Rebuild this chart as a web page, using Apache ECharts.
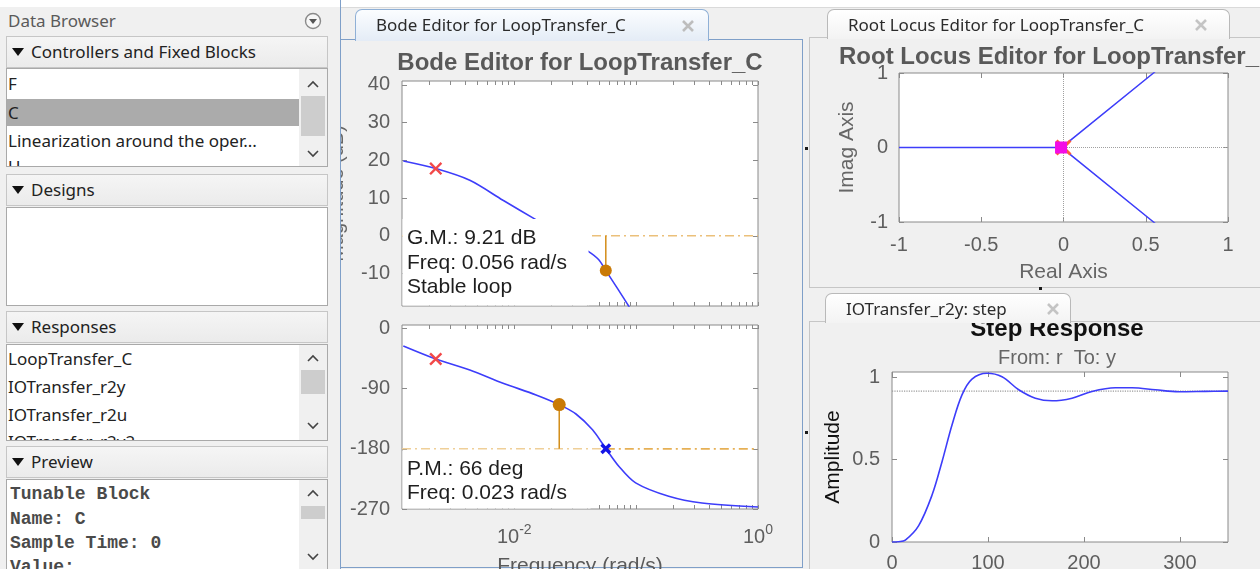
<!DOCTYPE html>
<html>
<head>
<meta charset="utf-8">
<script src="https://cdn.jsdelivr.net/npm/echarts@6/dist/echarts.min.js"></script>
<style>
html,body{margin:0;padding:0;width:1260px;height:569px;overflow:hidden;background:#f0f0f0;font-family:"Noto Sans","Open Sans",sans-serif;}
.abs{position:absolute;}
#chart{position:absolute;left:0;top:0;width:1260px;height:569px;z-index:1;}
#left{position:absolute;left:0;top:0;width:340px;height:569px;background:#f0f0f0;border-right:1px solid #7f9fc8;z-index:2;overflow:hidden;}
.hdr{position:absolute;left:6px;width:320px;height:30px;border:1px solid #c6c6c6;background:linear-gradient(#f5f5f5,#ebebeb);font-size:17px;line-height:30px;color:#222;}
.hdr .tri{position:absolute;left:5px;top:11px;width:0;height:0;border-left:6px solid transparent;border-right:6px solid transparent;border-top:8px solid #111;}
.hdr .lab{position:absolute;left:24px;top:0;}
.box{position:absolute;left:6px;width:320px;background:#fff;border:1px solid #a9a9a9;overflow:hidden;}
.it{position:absolute;left:1px;font-size:17px;line-height:24px;color:#222;white-space:nowrap;}
.mono{position:absolute;left:3px;font-family:"Liberation Mono","DejaVu Sans Mono",monospace;font-weight:bold;font-size:18px;line-height:22px;color:#4a4a4a;white-space:nowrap;}
.sb{position:absolute;left:292px;top:0;width:28px;height:100%;background:#f0f0f0;}
.thumb{position:absolute;left:2px;width:24px;background:#cdcdcd;}
.chev{position:absolute;left:8px;}
.tab{position:absolute;border:1px solid #b9b9b9;border-bottom:none;border-radius:7px 7px 0 0;background:linear-gradient(#ffffff,#f3f3f3);z-index:2;}
.tab .tt{position:absolute;left:20px;top:0;font-size:17px;line-height:30px;color:#2b2b2b;white-space:nowrap;}
.tab svg{position:absolute;}
.panel{position:absolute;border:1px solid #c6c6c6;background:#f0f0f0;z-index:0;}
.dot{position:absolute;width:3px;height:3px;background:#1a1a1a;z-index:2;}
</style>
</head>
<body>
<!-- window chrome (behind the plots) -->
<div class="abs" style="left:0;top:0;width:1260px;height:7px;background:#fff;border-bottom:1px solid #dadada;z-index:0"></div>
<div class="panel" style="left:340px;top:39px;width:461px;height:527px;border-color:#7f9fc8;"></div>
<div class="panel" style="left:809px;top:37px;width:470px;height:249px;"></div>
<div class="panel" style="left:809px;top:321px;width:470px;height:270px;"></div>

<div class="tab" style="left:355px;top:9px;width:352px;height:31px;border-color:#8fb0d6;background:linear-gradient(#fbfdff,#e4ecf6);">
  <div class="tt">Bode Editor for LoopTransfer_C</div>
  <svg style="left:325px;top:9px" width="14" height="14"><path d="M2,2L12,12M12,2L2,12" stroke="#bdbdbd" stroke-width="2.6"/></svg>
</div>
<div class="tab" style="left:827px;top:9px;width:401px;height:29px;">
  <div class="tt">Root Locus Editor for LoopTransfer_C</div>
  <svg style="left:366px;top:8px" width="14" height="14"><path d="M2,2L12,12M12,2L2,12" stroke="#c4c4c4" stroke-width="2.6"/></svg>
</div>
<div class="tab" style="left:825px;top:293px;width:244px;height:29px;">
  <div class="tt">IOTransfer_r2y: step</div>
  <svg style="left:220px;top:8px" width="14" height="14"><path d="M2,2L12,12M12,2L2,12" stroke="#c4c4c4" stroke-width="2.6"/></svg>
</div>
<div class="dot" style="left:805px;top:147px"></div>
<div class="dot" style="left:805px;top:431px"></div>
<div class="dot" style="left:1039px;top:287px"></div>

<div id="chart"></div>

<!-- Data Browser (left) -->
<div id="left">
  <div class="abs" style="left:0;top:0;width:340px;height:7px;background:#fff;"></div>
  <div class="abs" style="left:8px;top:9px;font-size:17px;line-height:24px;color:#5a5a5a;">Data Browser</div>
  <svg class="abs" style="left:304px;top:12px" width="18" height="18"><circle cx="9" cy="9" r="7.5" fill="#f7f7f7" stroke="#8a8a8a" stroke-width="1.4"/><path d="M5,7L13,7L9,12Z" fill="#555"/></svg>

  <div class="hdr" style="top:36px"><span class="tri"></span><span class="lab">Controllers and Fixed Blocks</span></div>
  <div class="box" style="top:68px;height:97px;">
    <div class="abs" style="left:0;top:30px;width:292px;height:27px;background:#ababab;"></div>
    <div class="it" style="top:3px">F</div>
    <div class="it" style="top:32px">C</div>
    <div class="it" style="top:60px">Linearization around the oper...</div>
    <div class="it" style="top:86px">U</div>
    <div class="sb">
      <svg class="chev" style="top:11px" width="12" height="8"><polyline points="1,7 6,2 11,7" fill="none" stroke="#444" stroke-width="1.6"/></svg>
      <div class="thumb" style="top:27px;height:40px"></div>
      <svg class="chev" style="top:81px" width="12" height="8"><polyline points="1,1 6,6 11,1" fill="none" stroke="#444" stroke-width="1.6"/></svg>
    </div>
  </div>

  <div class="hdr" style="top:174px"><span class="tri"></span><span class="lab">Designs</span></div>
  <div class="box" style="top:207px;height:97px;"></div>

  <div class="hdr" style="top:311px"><span class="tri"></span><span class="lab">Responses</span></div>
  <div class="box" style="top:344px;height:95px;">
    <div class="it" style="top:2px">LoopTransfer_C</div>
    <div class="it" style="top:30px">IOTransfer_r2y</div>
    <div class="it" style="top:58px">IOTransfer_r2u</div>
    <div class="it" style="top:85px">IOTransfer_r2y2</div>
    <div class="sb">
      <svg class="chev" style="top:9px" width="12" height="8"><polyline points="1,7 6,2 11,7" fill="none" stroke="#444" stroke-width="1.6"/></svg>
      <div class="thumb" style="top:25px;height:24px"></div>
      <svg class="chev" style="top:77px" width="12" height="8"><polyline points="1,1 6,6 11,1" fill="none" stroke="#444" stroke-width="1.6"/></svg>
    </div>
  </div>

  <div class="hdr" style="top:446px"><span class="tri"></span><span class="lab">Preview</span></div>
  <div class="box" style="top:479px;height:100px;">
    <div class="mono" style="top:3px">Tunable Block</div>
    <div class="mono" style="top:28px">Name: C</div>
    <div class="mono" style="top:52px">Sample Time: 0</div>
    <div class="mono" style="top:76px">Value:</div>
    <div class="sb">
      <svg class="chev" style="top:9px" width="12" height="8"><polyline points="1,7 6,2 11,7" fill="none" stroke="#444" stroke-width="1.6"/></svg>
      <div class="thumb" style="top:26px;height:13px"></div>
      <svg class="chev" style="top:73px" width="12" height="8"><polyline points="1,1 6,6 11,1" fill="none" stroke="#444" stroke-width="1.6"/></svg>
    </div>
  </div>
</div>

<script>
// ---------------- data ----------------
// Bode magnitude (open loop)
const magFreq = [0.00123, 0.00227, 0.00432, 0.00809, 0.0148, 0.0240, 0.0408, 0.0492, 0.0564, 0.0718, 0.0868, 0.0950];
const magDb   = [19.8,    17.8,    14.7,    9.4,     4.4,    0.3,    -4.2,   -6.3,   -9.2,   -14.4,  -18.6,  -21.0];
// Bode phase
const phFreq  = [0.00123, 0.00227, 0.00432, 0.00809, 0.0151, 0.0234, 0.0321, 0.0439, 0.0556, 0.0724, 0.0991, 0.185, 0.347, 1.0];
const phDeg   = [-26.4,   -45.8,   -62.2,   -82.0,   -99.5,  -114.0, -128.0, -151.7, -178.0, -206.4, -231.0, -251.0, -261.0, -267.0];
// margins
const gmFreq = 0.0564, gmMag = -9.2;     // gain margin point
const pmFreq = 0.0234, pmPhase = -114;   // phase margin point
const compPoleFreq = 0.00227, compPoleMag = 17.8, compPolePhase = -45.8;
const crossFreq = 0.0564, crossPhase = -180;
const freqRange = [0.0012, 1];
const magRange = [-18.6, 41];
const phaseRange = [-270, 5];
const magTicks = [-10, 0, 10, 20, 30, 40];
const phaseTicks = [-270, -180, -90, 0];
const freqLabelTicks = [0.01, 1];
const freqMinorTicks = [0.002,0.003,0.004,0.005,0.006,0.007,0.008,0.009,0.01,0.02,0.03,0.04,0.05,0.06,0.07,0.08,0.09,0.1,0.2,0.3,0.4,0.5,0.6,0.7,0.8,0.9,1];
const gmText = ['G.M.: 9.21 dB', 'Freq: 0.056 rad/s', 'Stable loop'];
const pmText = ['P.M.: 66 deg', 'Freq: 0.023 rad/s'];

// Root locus
const rlReal = [-1, 0];
const rlImagAxisLine = [0, 0];
const rlUpperRe = [0.019, 0.547, 0.562];
const rlUpperIm = [0.056, 1.0, 1.03];
const rlLowerRe = [0.019, 0.547, 0.562];
const rlLowerIm = [-0.056, -1.0, -1.03];
const rlPole = [-0.015, 0];
const rlRange = [-1, 1];
const rlTicksX = [-1, -0.5, 0, 0.5, 1];
const rlTicksY = [-1, 0, 1];

// Step response r -> y
const stepT = [0, 6.9, 13.9, 27.8, 41.7, 52.1, 62.5, 72.9, 83.3, 99, 114.6, 132, 149.3, 166.7, 187.5, 208.3, 232.6, 250, 274.3, 298.6, 326.4, 350];
const stepY = [0, 0.002, 0.012, 0.10, 0.285, 0.488, 0.711, 0.894, 0.990, 1.025, 1.004, 0.925, 0.874, 0.858, 0.874, 0.915, 0.937, 0.937, 0.925, 0.913, 0.915, 0.917];
const stepFinal = 0.917;
const stepTRange = [0, 350];
const stepYRange = [0, 1.033];
const stepTicksX = [0, 100, 200, 300];
const stepTicksY = [0, 0.5, 1];

// ---------------- styling ----------------
const BOX = '#8a8a8a';
const LBL = '#5e5e5e';
const BLUE = '#3d3dfa';
const FONT = '"Liberation Sans", Arial, sans-serif';
const ORANGE = '#c97a06';
const XPATH = 'path://M0,1.3L1.3,0L5,3.7L8.7,0L10,1.3L6.3,5L10,8.7L8.7,10L5,6.3L1.3,10L0,8.7L3.7,5Z';
const XPATH_BOLD = 'path://M0,2.2L2.2,0L5,2.8L7.8,0L10,2.2L7.2,5L10,7.8L7.8,10L5,7.2L2.2,10L0,7.8L2.8,5Z';
const zip = (a, b) => a.map((v, i) => [v, b[i]]);

const gridBase = {show: true, backgroundColor: '#fff', borderColor: BOX, borderWidth: 1, containLabel: false, outerBoundsMode: 'none'};
const lbl = (extra) => Object.assign({show: true, color: LBL, fontSize: 20, fontFamily: FONT}, extra);
const tick = (vals, len) => ({show: true, inside: true, length: len || 5, customValues: vals, lineStyle: {color: BOX, width: 1}});
const noLine = {show: false, onZero: false};

function valAxis(gi, pos, range, ticks, label, name, extra) {
  return Object.assign({
    type: 'value', gridIndex: gi, position: pos, min: range[0], max: range[1],
    axisLine: noLine, splitLine: {show: false},
    axisTick: tick(ticks),
    axisLabel: label ? lbl(Object.assign({customValues: ticks}, label)) : {show: false}
  }, name || {}, extra || {});
}
function logAxis(gi, pos, label, name) {
  return Object.assign({
    type: 'log', logBase: 10, gridIndex: gi, position: pos, min: freqRange[0], max: freqRange[1],
    axisLine: noLine, splitLine: {show: false}, minorTick: {show: false},
    axisTick: tick(freqMinorTicks, 4),
    axisLabel: label ? lbl(Object.assign({customValues: freqLabelTicks}, label)) : {show: false}
  }, name || {});
}
const logFmt = (v) => {
  const e = Math.round(Math.log10(v));
  if (Math.abs(Math.log10(v) - e) > 1e-6 || (e !== -2 && e !== 0)) return '';
  return '{b|10}{s|' + e + '}';
};

const xAxes = [
  logAxis(0, 'bottom', null),
  logAxis(0, 'top', null),
  logAxis(1, 'bottom', {margin: 14, formatter: logFmt, rich: {
      b: {fontSize: 20, fontFamily: FONT, color: LBL, verticalAlign: 'bottom'},
      s: {fontSize: 14, fontFamily: FONT, color: LBL, verticalAlign: 'bottom', padding: [0, 0, 10, 0]}}},
    {name: 'Frequency (rad/s)', nameLocation: 'middle', nameGap: 47, nameTextStyle: {fontSize: 21, fontFamily: FONT, color: '#5a5a5a'}}),
  logAxis(1, 'top', null),
  valAxis(2, 'bottom', rlRange, rlTicksX, {margin: 13},
    {name: 'Real Axis', nameLocation: 'middle', nameGap: 40, nameTextStyle: {fontSize: 21, fontFamily: FONT, color: '#666'}}),
  valAxis(2, 'top', rlRange, rlTicksX, null),
  valAxis(3, 'bottom', stepTRange, stepTicksX, {margin: 11}),
  valAxis(3, 'top', stepTRange, stepTicksX, null)
];
const yAxes = [
  valAxis(0, 'left', magRange, magTicks, {margin: 12},
    {name: 'Magnitude (dB)', nameLocation: 'middle', nameGap: 55, nameTextStyle: {fontSize: 20, fontFamily: FONT, color: '#666'}}),
  valAxis(0, 'right', magRange, magTicks, null),
  valAxis(1, 'left', phaseRange, phaseTicks, {margin: 12}),
  valAxis(1, 'right', phaseRange, phaseTicks, null),
  valAxis(2, 'left', rlRange, rlTicksY, {margin: 11},
    {name: 'Imag Axis', nameLocation: 'middle', nameGap: 41, nameTextStyle: {fontSize: 21, fontFamily: FONT, color: '#666'}}),
  valAxis(2, 'right', rlRange, rlTicksY, null),
  valAxis(3, 'left', stepYRange, stepTicksY, {margin: 12},
    {name: 'Amplitude', nameLocation: 'middle', nameGap: 48, nameTextStyle: {fontSize: 21, fontFamily: FONT, color: '#111'}}),
  valAxis(3, 'right', stepYRange, stepTicksY, null)
];

const line = (xi, yi, data, color, width, type, z, smooth) => ({
  type: 'line', xAxisIndex: xi, yAxisIndex: yi, data: data, showSymbol: false, symbol: 'none',
  smooth: smooth || false,
  lineStyle: {color: color, width: width, type: type || 'solid'}, z: z || 2, silent: true, clip: true
});
const mark = (xi, yi, pt, symbol, size, color, z) => ({
  type: 'scatter', xAxisIndex: xi, yAxisIndex: yi, data: [pt], symbol: symbol, symbolSize: size,
  itemStyle: {color: color, opacity: 1}, z: z || 5, silent: true
});

const series = [
  // magnitude
  line(0, 0, [[freqRange[0], 0], [freqRange[1], 0]], '#ebc07a', 1.6, [9, 4, 2, 4], 2),
  line(0, 0, [[gmFreq, 0], [gmFreq, gmMag]], '#d38d18', 1.5, 'solid', 3),
  line(0, 0, zip(magFreq, magDb), BLUE, 1.6, 'solid', 4, 0.3),
  mark(0, 0, [gmFreq, gmMag], 'circle', 12, ORANGE, 6),
  mark(0, 0, [compPoleFreq, compPoleMag], XPATH, 13, '#f24848', 6),
  // phase
  line(2, 2, [[freqRange[0], -180], [crossFreq, -180]], '#efcf98', 1.5, [9, 4, 2, 4], 2),
  line(2, 2, [[crossFreq, -180], [freqRange[1], -180]], '#e6b055', 1.8, [9, 4, 2, 4], 2),
  line(2, 2, [[pmFreq, -180], [pmFreq, pmPhase]], '#d38d18', 1.5, 'solid', 3),
  line(2, 2, zip(phFreq, phDeg), BLUE, 1.6, 'solid', 4, 0.3),
  mark(2, 2, [pmFreq, pmPhase], 'circle', 13, ORANGE, 6),
  mark(2, 2, [compPoleFreq, compPolePhase], XPATH, 13, '#f24848', 6),
  mark(2, 2, [crossFreq, crossPhase], XPATH_BOLD, 11, '#1414e6', 6),
  // root locus
  line(4, 4, [[0, rlRange[0]], [0, rlRange[1]]], '#a0a0a0', 1, 'dotted', 1),
  line(4, 4, [[rlRange[0], 0], [rlRange[1], 0]], '#a0a0a0', 1, 'dotted', 1),
  line(4, 4, zip(rlReal, rlImagAxisLine), BLUE, 1.6, 'solid', 3),
  line(4, 4, zip(rlUpperRe, rlUpperIm), BLUE, 1.6, 'solid', 3),
  line(4, 4, zip(rlLowerRe, rlLowerIm), BLUE, 1.6, 'solid', 3),
  mark(4, 4, [0, 0], XPATH, 16, '#ff5a3c', 5),
  mark(4, 4, rlPole, 'rect', 12, '#f30de6', 6),
  // step
  line(6, 6, [[stepTRange[0], stepFinal], [stepTRange[1], stepFinal]], '#9a9a9a', 1.2, 'dotted', 1),
  line(6, 6, zip(stepT, stepY), BLUE, 1.6, 'solid', 3, 0.35)
];

const txt = (x, y, text, font, fill, align, z) => ({
  type: 'text', x: x, y: y, z: z || 41, silent: true,
  style: {text: text, font: font, fill: fill, textAlign: align || 'left', align: align || 'left',
          textVerticalAlign: 'middle', verticalAlign: 'middle'}
});
const ANN = '21px ' + FONT;
const TITLE = 'bold 24px ' + FONT;
const graphics = [
  {type: 'rect', z: 40, silent: true, shape: {x: 402.5, y: 219, width: 186, height: 86.5}, style: {fill: '#ffffff'}},
  txt(407, 238, gmText[0], ANN, '#1e1e1e'),
  txt(407, 263, gmText[1], ANN, '#1e1e1e'),
  txt(407, 287, gmText[2], ANN, '#1e1e1e'),
  {type: 'rect', z: 40, silent: true, shape: {x: 402.5, y: 451, width: 188, height: 57.5}, style: {fill: '#ffffff'}},
  txt(407, 469, pmText[0], ANN, '#1e1e1e'),
  txt(407, 493, pmText[1], ANN, '#1e1e1e'),
  txt(580, 63, 'Bode Editor for LoopTransfer_C', TITLE, '#595959', 'center'),
  txt(839, 57, 'Root Locus Editor for LoopTransfer_C', TITLE, '#595959', 'left'),
  txt(1057, 329, 'Step Response', TITLE, '#111111', 'center'),
  txt(1057, 358, 'From: r  To: y', '20px ' + FONT, '#666666', 'center')
];

const chart = echarts.init(document.getElementById('chart'), null, {renderer: 'canvas', width: 1260, height: 569});
chart.setOption({
  animation: false,
  backgroundColor: 'transparent',
  grid: [
    Object.assign({left: 402, top: 81, width: 356, height: 225}, gridBase),
    Object.assign({left: 402, top: 325, width: 356, height: 184}, gridBase),
    Object.assign({left: 899, top: 73, width: 329, height: 149}, gridBase),
    Object.assign({left: 892, top: 372, width: 336, height: 170}, gridBase)
  ],
  xAxis: xAxes,
  yAxis: yAxes,
  series: series,
  graphic: graphics
});
</script>
</body>
</html>
